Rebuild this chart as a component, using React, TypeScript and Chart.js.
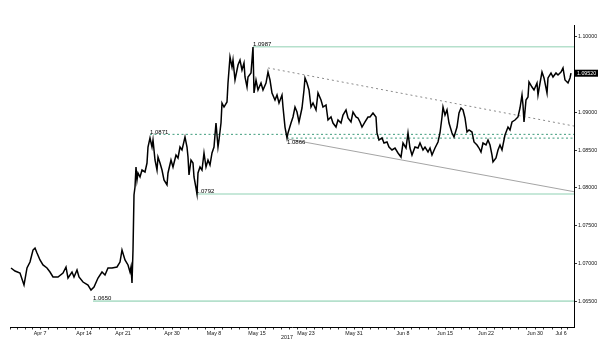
import { useEffect, useRef } from "react";
import { Chart, registerables } from "chart.js";

Chart.register(...registerables);

// Bar number (each bar ~ a few trading hours) and EUR/USD price
const bars = [
  1, 5, 10, 14, 17, 20, 23, 25, 27, 30, 33, 37, 40, 43, 48, 53, 56, 58, 62, 64, 67, 69, 73, 78, 81, 84, 88, 92, 95, 98,
  102, 107, 110, 112, 115, 118, 120, 121, 122,
  123, 124, 125, 126, 127, 128, 130, 132, 135, 137, 138, 140, 142, 143, 145, 147, 148, 150, 152, 154, 157, 158, 161,
  163, 166, 168, 170, 172, 175, 177, 178, 179, 181, 183, 184, 186, 187, 188, 190, 192, 194, 196, 198, 200, 202, 204,
  206, 208, 209, 211, 212, 214, 217, 218, 220, 222, 223, 225, 228, 230, 232, 234,
  235, 237, 238, 241, 242, 243, 244, 246, 248, 251, 253, 256, 258, 260, 262, 265, 267, 269, 272, 273, 275, 277, 278,
  281, 283, 285, 287, 289, 292, 294, 295, 297, 299, 301, 303, 306, 308, 311, 313, 316, 318, 321, 323, 326, 328, 331,
  333, 336, 338, 341, 343, 346, 348, 350, 352, 355, 358, 360, 363, 366, 367, 369, 372, 374, 377, 379, 382, 385, 388,
  391, 393, 396, 398, 400, 402, 405, 408, 410, 413, 415, 418, 420, 422, 425, 428, 430, 432, 433, 435, 437, 439, 442,
  444, 447, 449, 451, 453, 455, 457, 459, 462, 464, 467, 469, 471, 473, 476, 478, 480, 482, 483, 486, 488, 490, 492,
  495, 498, 500, 502, 505, 508, 510, 512, 513, 514, 516, 518, 519, 522, 524, 527, 528, 530, 532, 534, 537, 538, 541,
  543, 546, 548, 551, 553, 555, 558, 560, 561,
];
const prices = [
  1.06939, 1.06899, 1.06873, 1.06713, 1.06939, 1.07018, 1.07177, 1.07204, 1.07138, 1.07045, 1.06979, 1.06939, 1.06886,
  1.0682, 1.0682, 1.06873, 1.06952, 1.06806, 1.06886, 1.0682, 1.06912, 1.0682, 1.06753, 1.06713, 1.06647, 1.06687,
  1.06806, 1.06886, 1.06846, 1.06939,
  1.06939, 1.06952, 1.07018, 1.07177, 1.07045, 1.06979, 1.06886, 1.06952, 1.0674,
  1.07177, 1.07906, 1.08012, 1.08277, 1.08105, 1.08198, 1.08145, 1.08237, 1.08211, 1.0833, 1.08542, 1.08662, 1.08542,
  1.08635, 1.0837, 1.08237, 1.0841, 1.0833, 1.08237, 1.08105, 1.08039, 1.08198, 1.0837,
  1.08277, 1.08436, 1.08397, 1.08542, 1.08503, 1.08675, 1.08542, 1.0841, 1.08171, 1.0837, 1.0833, 1.08145, 1.07999,
  1.07919, 1.08198, 1.08277, 1.08237, 1.08463, 1.08277, 1.0837, 1.08304, 1.08463, 1.08542,
  1.0886, 1.08542, 1.08635, 1.0886, 1.09125, 1.09072, 1.09139, 1.0939, 1.09735, 1.09602, 1.09695, 1.0943, 1.09629,
  1.09695, 1.09563, 1.09655,
  1.0947, 1.09337, 1.0947, 1.09523, 1.09695, 1.09867, 1.09258, 1.0943, 1.09298, 1.0939, 1.09298, 1.0939, 1.09536,
  1.0943, 1.09258, 1.09165, 1.09231, 1.09125, 1.09231, 1.09072, 1.08807, 1.08662, 1.08728,
  1.0886, 1.0894, 1.09072, 1.09006, 1.08874, 1.09059, 1.09298, 1.09457, 1.0939, 1.09298, 1.09072, 1.09125, 1.09033,
  1.09258, 1.09165, 1.09072, 1.09099, 1.089, 1.0894, 1.0886, 1.08807, 1.089, 1.0886,
  1.08966, 1.09033, 1.08927, 1.08874, 1.09006, 1.0894, 1.08927, 1.08874, 1.08807, 1.08874, 1.0894, 1.0894, 1.08993,
  1.0894, 1.08728, 1.08635, 1.08662, 1.08595, 1.08609, 1.08542, 1.08503, 1.08529, 1.08463,
  1.0841, 1.08595, 1.08529, 1.08728, 1.08529, 1.08436, 1.08542, 1.08529, 1.08595, 1.08503, 1.08542, 1.08476, 1.08529,
  1.08436, 1.08529, 1.08609, 1.08728, 1.0894, 1.09072, 1.08966, 1.09033, 1.0886, 1.08728,
  1.08675, 1.08807, 1.08993, 1.09059, 1.09033, 1.08927, 1.08741, 1.08768, 1.08741, 1.08609, 1.08569, 1.08529, 1.08476,
  1.08595, 1.08569, 1.08635, 1.08569, 1.08436, 1.08344, 1.08397, 1.08503, 1.08569, 1.08503,
  1.08701, 1.08807, 1.08768, 1.08874, 1.089, 1.0894, 1.09059, 1.09231, 1.09099, 1.08874, 1.09165, 1.09205, 1.09404,
  1.09337, 1.09298, 1.0939, 1.09231, 1.0939, 1.09536, 1.09457, 1.09258, 1.09457, 1.09523,
  1.0947, 1.09523, 1.09496, 1.09536, 1.09589, 1.0943, 1.0939, 1.09457, 1.0952,
];

const tickBars = [30, 74, 113, 162, 204, 247, 296, 344, 393, 435, 476, 525, 551];
const tickLabels = [
  "Apr 7", "Apr 14", "Apr 21", "Apr 30", "May 8", "May 15", "May 23",
  "May 31", "Jun 8", "Jun 15", "Jun 22", "Jun 30", "Jul 6",
];
const yearLabel = "2017";
const yearBar = 277;
const yTicks = [1.065, 1.07, 1.075, 1.08, 1.085, 1.09, 1.1];
const lastPrice = 1.0952;

const levels = [1.0987, 1.0871, 1.0866, 1.0792, 1.065];
const levelStarts = [243, 140, 277, 186, 83];
const levelLabels = ["1.0987", "1.0871", "1.0866", "1.0792", "1.0650"];
const levelDashed = [false, true, true, false, false];
const levelLabelBelow = [false, false, true, false, false];

const upperTrendBars = [258, 564];
const upperTrendPrices = [1.0959, 1.0882];
const lowerTrendBars = [277, 564];
const lowerTrendPrices = [1.0865, 1.0795];

const X_MIN = 0;
const X_MAX = 564;
const Y_MIN = 1.06157;
const Y_MAX = 1.10159;
const DAY_BARS = 8.4;

const FONT = '"Liberation Sans", Arial, sans-serif';

function xTickValues(): number[] {
  // labelled ticks plus unlabelled daily marks between them
  const out: number[] = [];
  const anchors = [X_MIN, ...tickBars];
  for (let i = 0; i < anchors.length; i++) {
    out.push(anchors[i]);
    const next = i + 1 < anchors.length ? anchors[i + 1] : X_MAX;
    const n = Math.max(1, Math.round((next - anchors[i]) / DAY_BARS));
    const step = (next - anchors[i]) / n;
    for (let k = 1; k < n; k++) out.push(anchors[i] + k * step);
  }
  return out;
}

export default function App() {
  const ref = useRef<HTMLCanvasElement | null>(null);

  useEffect(() => {
    document.body.style.margin = "0";
    const canvas = ref.current;
    if (!canvas) return;

    const annot = {
      id: "annot",
      afterDraw(chart: any) {
        const { ctx, chartArea } = chart;
        const x = chart.scales.x;
        const y = chart.scales.y;
        ctx.save();
        ctx.font = `6px ${FONT}`;
        ctx.fillStyle = "#000";
        ctx.textAlign = "left";
        levels.forEach((lv, i) => {
          const px = x.getPixelForValue(levelStarts[i]);
          const py = y.getPixelForValue(lv);
          if (levelLabelBelow[i]) {
            ctx.textBaseline = "top";
            ctx.fillText(levelLabels[i], px, py + 1.5);
          } else {
            ctx.textBaseline = "bottom";
            ctx.fillText(levelLabels[i], px, py + 0.5);
          }
        });
        ctx.font = `5.3px ${FONT}`;
        ctx.textAlign = "center";
        ctx.textBaseline = "middle";
        ctx.fillStyle = "#111";
        ctx.fillText(yearLabel, x.getPixelForValue(yearBar), chartArea.bottom + 11);

        const py = y.getPixelForValue(lastPrice);
        ctx.fillStyle = "#000";
        ctx.fillRect(chartArea.right + 1, py - 3.5, 23, 7);
        ctx.fillStyle = "#fff";
        ctx.textAlign = "left";
        ctx.fillText(lastPrice.toFixed(5), chartArea.right + 3, py + 0.3);
        ctx.restore();
      },
    };

    const levelSets = levels.map((lv, i) => ({
      data: [
        { x: levelStarts[i], y: lv },
        { x: X_MAX, y: lv },
      ],
      borderColor: levelDashed[i] ? "#3f9c7c" : "#b5e0cc",
      borderWidth: levelDashed[i] ? 1 : 1.6,
      borderDash: levelDashed[i] ? [2, 2.5] : [],
      pointRadius: 0,
      fill: false,
    }));

    const chart = new Chart(canvas, {
      type: "line",
      data: {
        datasets: [
          {
            data: bars.map((b, i) => ({ x: b, y: prices[i] })),
            borderColor: "#000",
            borderWidth: 1.5,
            pointRadius: 0,
            tension: 0,
            fill: false,
          } as any,
          {
            data: upperTrendBars.map((b, i) => ({ x: b, y: upperTrendPrices[i] })),
            borderColor: "#8a8a8a",
            borderWidth: 1,
            borderDash: [2, 3],
            pointRadius: 0,
          },
          {
            data: lowerTrendBars.map((b, i) => ({ x: b, y: lowerTrendPrices[i] })),
            borderColor: "#9a9a9a",
            borderWidth: 0.9,
            pointRadius: 0,
          },
          ...levelSets,
        ],
      },
      options: {
        animation: false,
        responsive: false,
        devicePixelRatio: 1,
        layout: { padding: { left: 10, top: 25, right: 0, bottom: 0 } },
        plugins: { legend: { display: false }, tooltip: { enabled: false } },
        scales: {
          x: {
            type: "linear",
            min: X_MIN,
            max: X_MAX,
            afterFit: (s: any) => {
              s.height = 28;
            },
            afterBuildTicks: (s: any) => {
              s.ticks = xTickValues().map((v) => ({ value: v }));
            },
            ticks: {
              autoSkip: false,
              maxRotation: 0,
              padding: 1,
              color: "#111",
              font: { size: 5.3, family: FONT },
              callback: (v: any) => {
                const i = tickBars.indexOf(Number(v));
                return i >= 0 ? tickLabels[i] : "";
              },
            },
            grid: { drawOnChartArea: false, tickLength: 2.5, color: "#000", lineWidth: 0.8 },
            border: { color: "#000", width: 1 },
          },
          y: {
            position: "right",
            min: Y_MIN,
            max: Y_MAX,
            afterFit: (s: any) => {
              s.width = 26;
            },
            afterBuildTicks: (s: any) => {
              s.ticks = yTicks.map((v) => ({ value: v }));
            },
            ticks: {
              padding: 1,
              color: "#111",
              font: { size: 5.3, family: FONT },
              callback: (v: any) => Number(v).toFixed(5),
            },
            grid: { drawOnChartArea: false, tickLength: 3, color: "#000", lineWidth: 0.8 },
            border: { color: "#000", width: 1 },
          },
        },
      },
      plugins: [annot],
    } as any);

    return () => chart.destroy();
  }, []);

  return (
    <div style={{ width: 600, height: 355, background: "#fff" }}>
      <canvas ref={ref} width={600} height={355} />
    </div>
  );
}
